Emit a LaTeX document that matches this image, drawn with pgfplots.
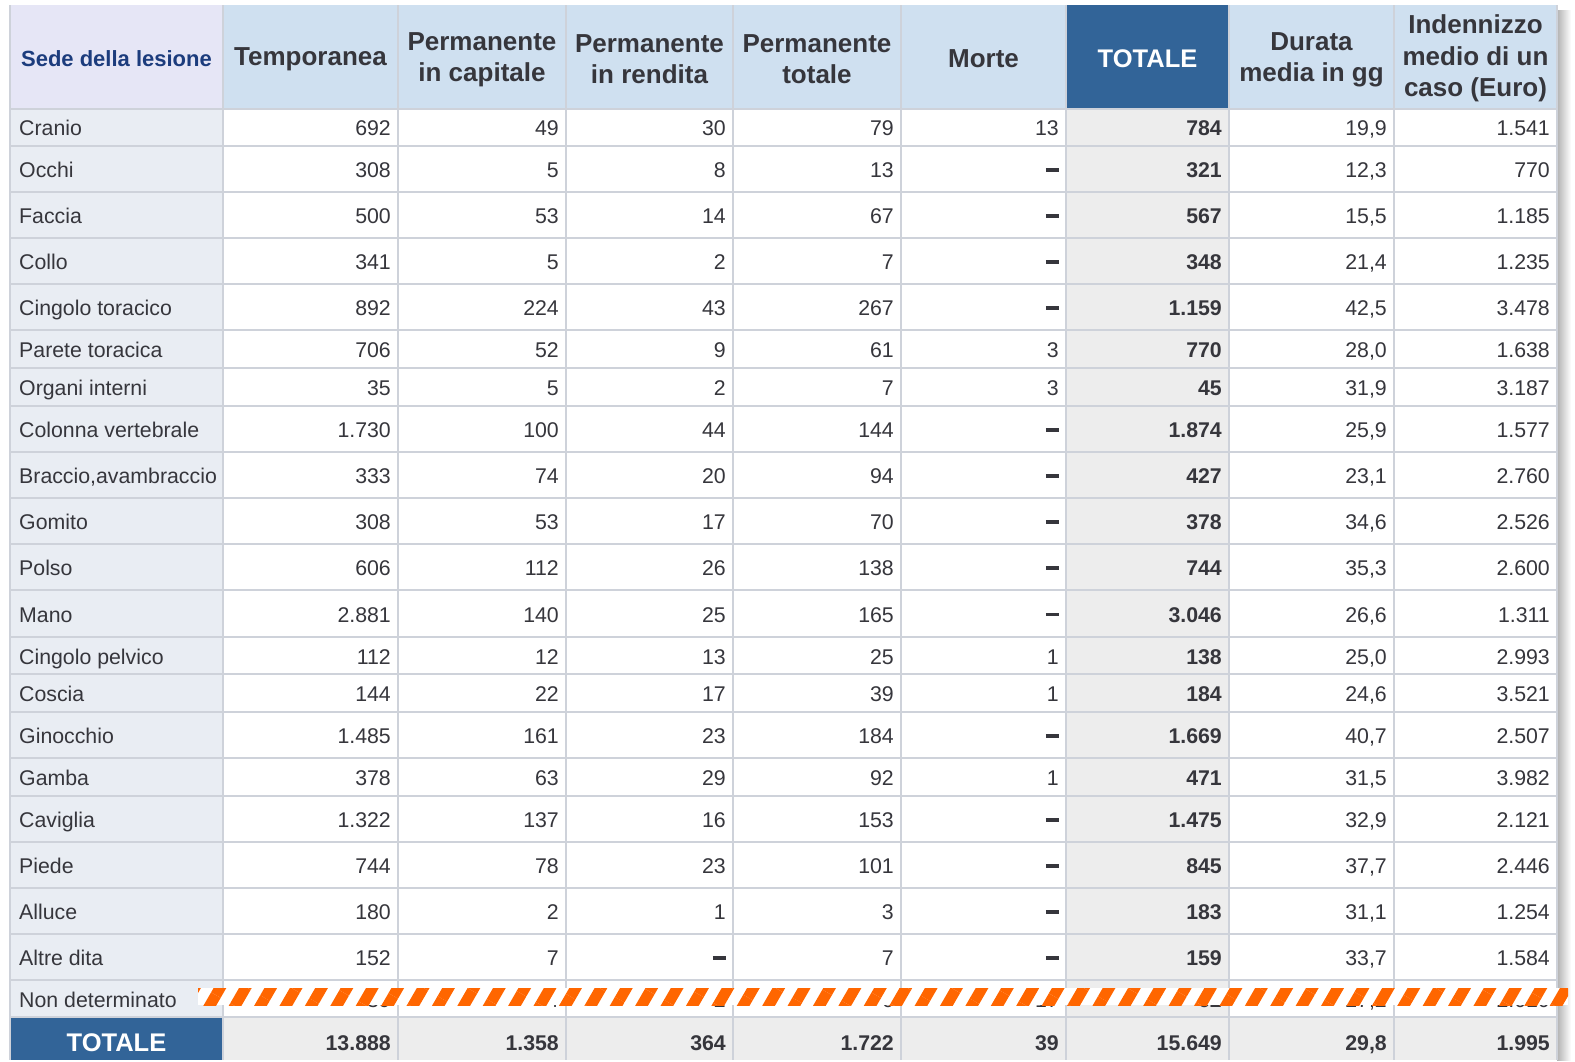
\documentclass[border=0pt]{standalone}
\usepackage{fontspec}
\setmainfont{Liberation Sans}
\usepackage{pgfplots}
\usepackage{pgfplotstable}
\pgfplotsset{compat=1.18}
\usetikzlibrary{patterns.meta}

\definecolor{hdr}{RGB}{207,224,240}
\definecolor{hdrfirst}{RGB}{230,230,246}
\definecolor{namebg}{RGB}{233,237,243}
\definecolor{totbg}{RGB}{237,237,237}
\definecolor{dblue}{RGB}{50,100,152}
\definecolor{gridc}{RGB}{206,210,218}
\definecolor{txt}{RGB}{54,54,60}
\definecolor{sedec}{RGB}{28,60,125}
\definecolor{stripe}{RGB}{255,102,0}

\newcommand\numfont{\fontsize{21.3}{24}\selectfont}
\newcommand\hdrfont{\fontsize{26}{31.3}\selectfont\bfseries}
\newcommand\dashmark{\raisebox{6pt}{\rule{13pt}{3.5pt}}\hspace{5pt}}
\newcommand\cellint[1]{\ifnum#1=0 \dashmark\else\pgfmathprintnumber[fixed,precision=0,1000 sep={.}]{#1}\fi}
\newcommand\celldec[1]{\pgfmathprintnumber[fixed,fixed zerofill,precision=1,use comma]{#1}}

\pgfplotstableread{
yc name temp cap rend ptot morte tot dur ind
127 Cranio 692 49 30 79 13 784 19.9 1541
169 Occhi 308 5 8 13 0 321 12.3 770
215 Faccia 500 53 14 67 0 567 15.5 1185
261 Collo 341 5 2 7 0 348 21.4 1235
307 {Cingolo toracico} 892 224 43 267 0 1159 42.5 3478
349 {Parete toracica} 706 52 9 61 3 770 28.0 1638
387 {Organi interni} 35 5 2 7 3 45 31.9 3187
429 {Colonna vertebrale} 1730 100 44 144 0 1874 25.9 1577
475 {Braccio,avambraccio} 333 74 20 94 0 427 23.1 2760
521 Gomito 308 53 17 70 0 378 34.6 2526
567 Polso 606 112 26 138 0 744 35.3 2600
613.5 Mano 2881 140 25 165 0 3046 26.6 1311
655.5 {Cingolo pelvico} 112 12 13 25 1 138 25.0 2993
693 Coscia 144 22 17 39 1 184 24.6 3521
735 Ginocchio 1485 161 23 184 0 1669 40.7 2507
777 Gamba 378 63 29 92 1 471 31.5 3982
819 Caviglia 1322 137 16 153 0 1475 32.9 2121
865 Piede 744 78 23 101 0 845 37.7 2446
911 Alluce 180 2 1 3 0 183 31.1 1254
957 {Altre dita} 152 7 0 7 0 159 33.7 1584
998.5 {Non determinato} 39 4 2 6 17 62 27.2 2010
}\datatab

\pgfplotstableread{
yc name temp cap rend ptot morte tot dur ind
1042 TOTALE 13888 1358 364 1722 39 15649 29.8 1995
}\tottab

\begin{document}
\begin{tikzpicture}
\begin{axis}[
  scale only axis, width=1575pt, height=1060pt,
  xmin=0, xmax=1575, ymin=0, ymax=1060, y dir=reverse,
  hide axis, clip=false,
  /pgf/number format/assume math mode=true,
  cell/.style={draw=none, mark=none, nodes near coords, point meta=explicit symbolic,
    every node near coord/.append style={anchor=base east, inner sep=0pt, text=txt, font=\numfont}},
]
% background
\fill[white] (0,0) rectangle (1575,1060);
% shadow on right
\shade[left color=black!30, right color=white] (1557,10) rectangle (1571,1060);
\fill[white] (10,5) rectangle (1557,1060);
% header cells
\fill[hdrfirst] (10,5) rectangle (223,108.5);
\fill[hdr] (223,5) rectangle (1557,108.5);
\fill[dblue] (1066,5) rectangle (1229,108.5);
% name column and totale column
\fill[namebg] (10,108.5) rectangle (223,1017);
\fill[totbg] (1066,108.5) rectangle (1229,1017);
% bottom total row
\fill[totbg] (223,1017) rectangle (1557,1060);
\fill[dblue] (10,1017) rectangle (223,1060);
% grid lines
\pgfplotsinvokeforeach{108.5,146,192,238,284,330,368,406,452,498,544,590,637,674,712,758,796,842,888,934,980,1017}{
  \draw[gridc, line width=2pt] (10,#1) -- (1557,#1);
}
\pgfplotsinvokeforeach{10,223,398,566,733,901,1066,1229,1394,1557}{
  \draw[gridc, line width=2pt] (#1,5) -- (#1,1060);
}
\fill[dblue] (1067,5) rectangle (1228,107.5);
\fill[dblue] (11,1018) rectangle (222,1060);

% header text
\node[font=\fontsize{22}{26}\selectfont\bfseries, text=sedec] at (116.5,58.5) {Sede della lesione};
\node[font=\hdrfont, text=txt, align=center] at (310.5,59) {Temporanea};
\node[font=\hdrfont, text=txt, align=center] at (482,59.5) {Permanente\\in capitale};
\node[font=\hdrfont, text=txt, align=center] at (649.5,59.5) {Permanente\\in rendita};
\node[font=\hdrfont, text=txt, align=center] at (817,59.5) {Permanente\\totale};
\node[font=\hdrfont, text=txt, align=center] at (983.5,59) {Morte};
\node[font=\fontsize{25.5}{30}\selectfont\bfseries, text=white] at (1147.5,58.5) {TOTALE};
\node[font=\hdrfont, text=txt, align=center] at (1311.5,59.5) {Durata\\media in gg};
\node[font=\hdrfont, text=txt, align=center] at (1475.5,58.5) {Indennizzo\\medio di un\\caso (Euro)};
\node[font=\fontsize{25.5}{30}\selectfont\bfseries, text=white] at (116.5,1043) {TOTALE};

% row names
\addplot[cell, every node near coord/.append style={anchor=base west}, nodes near coords={\pgfplotspointmeta}]
  table[x expr=19, y expr=\thisrow{yc}+8.5, meta=name]{\datatab};
% values
\addplot[cell, nodes near coords={\cellint{\pgfplotspointmeta}}] table[x expr=391, y expr=\thisrow{yc}+8.5, meta=temp]{\datatab};
\addplot[cell, nodes near coords={\cellint{\pgfplotspointmeta}}] table[x expr=559, y expr=\thisrow{yc}+8.5, meta=cap]{\datatab};
\addplot[cell, nodes near coords={\cellint{\pgfplotspointmeta}}] table[x expr=726, y expr=\thisrow{yc}+8.5, meta=rend]{\datatab};
\addplot[cell, nodes near coords={\cellint{\pgfplotspointmeta}}] table[x expr=894, y expr=\thisrow{yc}+8.5, meta=ptot]{\datatab};
\addplot[cell, nodes near coords={\cellint{\pgfplotspointmeta}}] table[x expr=1059, y expr=\thisrow{yc}+8.5, meta=morte]{\datatab};
\addplot[cell, every node near coord/.append style={font=\numfont\bfseries}, nodes near coords={\cellint{\pgfplotspointmeta}}] table[x expr=1222, y expr=\thisrow{yc}+8.5, meta=tot]{\datatab};
\addplot[cell, nodes near coords={\celldec{\pgfplotspointmeta}}] table[x expr=1387, y expr=\thisrow{yc}+8.5, meta=dur]{\datatab};
\addplot[cell, nodes near coords={\cellint{\pgfplotspointmeta}}] table[x expr=1550, y expr=\thisrow{yc}+8.5, meta=ind]{\datatab};

% totals row (bold)
\addplot[cell, every node near coord/.append style={font=\numfont\bfseries}, nodes near coords={\cellint{\pgfplotspointmeta}}] table[x expr=391, y expr=\thisrow{yc}+8.5, meta=temp]{\tottab};
\addplot[cell, every node near coord/.append style={font=\numfont\bfseries}, nodes near coords={\cellint{\pgfplotspointmeta}}] table[x expr=559, y expr=\thisrow{yc}+8.5, meta=cap]{\tottab};
\addplot[cell, every node near coord/.append style={font=\numfont\bfseries}, nodes near coords={\cellint{\pgfplotspointmeta}}] table[x expr=726, y expr=\thisrow{yc}+8.5, meta=rend]{\tottab};
\addplot[cell, every node near coord/.append style={font=\numfont\bfseries}, nodes near coords={\cellint{\pgfplotspointmeta}}] table[x expr=894, y expr=\thisrow{yc}+8.5, meta=ptot]{\tottab};
\addplot[cell, every node near coord/.append style={font=\numfont\bfseries}, nodes near coords={\cellint{\pgfplotspointmeta}}] table[x expr=1059, y expr=\thisrow{yc}+8.5, meta=morte]{\tottab};
\addplot[cell, every node near coord/.append style={font=\numfont\bfseries}, nodes near coords={\cellint{\pgfplotspointmeta}}] table[x expr=1222, y expr=\thisrow{yc}+8.5, meta=tot]{\tottab};
\addplot[cell, every node near coord/.append style={font=\numfont\bfseries}, nodes near coords={\celldec{\pgfplotspointmeta}}] table[x expr=1387, y expr=\thisrow{yc}+8.5, meta=dur]{\tottab};
\addplot[cell, every node near coord/.append style={font=\numfont\bfseries}, nodes near coords={\cellint{\pgfplotspointmeta}}] table[x expr=1550, y expr=\thisrow{yc}+8.5, meta=ind]{\tottab};

% corners of the orange hatched strip over "Non determinato"
\coordinate (s1) at (198,988);
\coordinate (s2) at (1568,1005);
\end{axis}
\fill[white] (s1) rectangle (s2);
\fill[pattern={Lines[angle=60,distance=22pt,line width=11pt]}, pattern color=stripe] (s1) rectangle (s2);
\end{tikzpicture}
\end{document}
